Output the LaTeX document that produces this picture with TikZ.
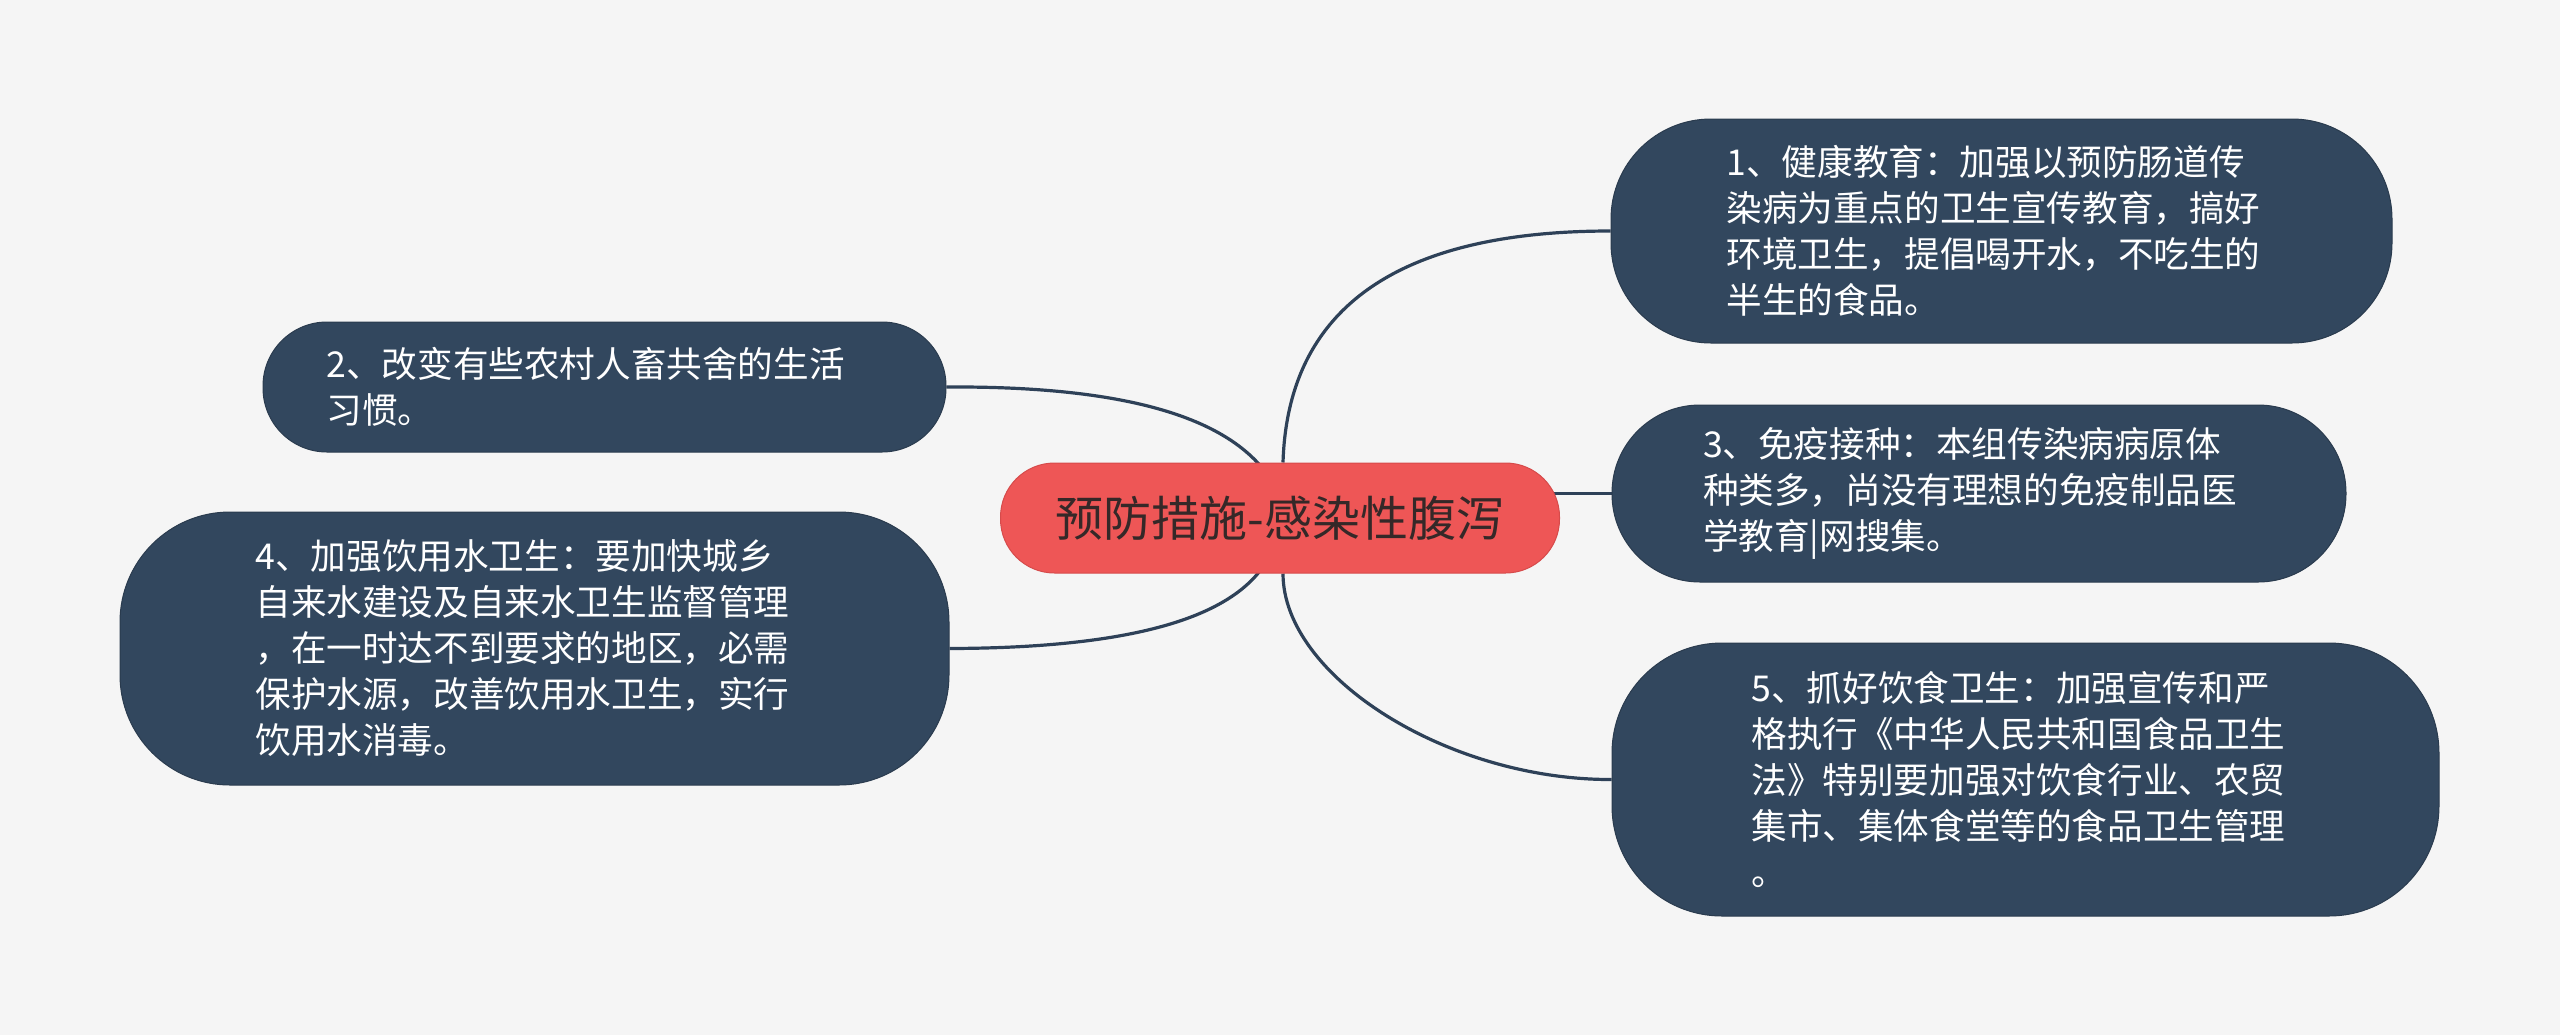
\documentclass[tikz,border=0pt]{standalone}
\usepackage{fontspec}
\setmainfont{Noto Sans CJK SC}
\usetikzlibrary{calc}
\definecolor{bgc}{HTML}{F5F5F5}
\definecolor{boxc}{HTML}{32475E}
\definecolor{boxline}{HTML}{2A3B4E}
\definecolor{linkc}{HTML}{2E4158}
\definecolor{rootc}{HTML}{EE5656}
\definecolor{rootline}{HTML}{D64B4B}
\definecolor{roottext}{HTML}{352828}
\pgfdeclarelayer{bglayer}
\pgfdeclarelayer{links}
\pgfsetlayers{bglayer,links,main}
\begin{document}
\begin{tikzpicture}[x=0.5pt,y=0.5pt,
  topic/.style={rectangle, fill=boxc, draw=boxline, line width=0.5pt, text=white,
    align=left, inner sep=0pt, font=\fontsize{17.8pt}{23pt}\selectfont},
  root/.style={rectangle, rounded corners=27pt, fill=rootc, draw=rootline, line width=0.5pt,
    text=roottext, inner sep=0pt, minimum width=279.5pt, minimum height=55pt,
    font=\fontsize{24pt}{28pt}\selectfont},
  link/.style={draw=linkc, line width=1.6pt}]

\begin{pgfonlayer}{bglayer}
\fill[bgc] (0,0) rectangle (2560,-1035);
\end{pgfonlayer}
\useasboundingbox (0,0) rectangle (2560,-1035);

\node[root] (c) at (1280,-518) {预防措施-感染性腹泻};

\node[topic, rounded corners=50pt, minimum width=390.5pt, minimum height=112pt, text width=275pt]
  (n1) at (2001.5,-231) {1、健康教育：加强以预防肠道传\\染病为重点的卫生宣传教育，搞好\\环境卫生，提倡喝开水，不吃生的\\半生的食品。};

\node[topic, rounded corners=32pt, minimum width=341.5pt, minimum height=65pt, text width=278pt]
  (n2) at (604.5,-387) {2、改变有些农村人畜共舍的生活\\习惯。};

\node[topic, rounded corners=44pt, minimum width=367pt, minimum height=88.5pt, text width=276pt]
  (n3) at (1979,-493.5) {3、免疫接种：本组传染病病原体\\种类多，尚没有理想的免疫制品医\\学教育|网搜集。};

\node[topic, rounded corners=55pt, minimum width=414.5pt, minimum height=136.5pt, text width=279pt]
  (n4) at (534.5,-648.5) {4、加强饮用水卫生：要加快城乡\\自来水建设及自来水卫生监督管理\\，在一时达不到要求的地区，必需\\保护水源，改善饮用水卫生，实行\\饮用水消毒。};

\node[topic, rounded corners=55pt, minimum width=413.5pt, minimum height=136.5pt, text width=274pt]
  (n5) at (2025.5,-779.5) {5、抓好饮食卫生：加强宣传和严\\格执行《中华人民共和国食品卫生\\法》特别要加强对饮食行业、农贸\\集市、集体食堂等的食品卫生管理\\。};

\begin{pgfonlayer}{links}
\draw[link] ($(c.north)+(3,0)$) .. controls (1287.7,-308.3) and (1397.2,-231) .. (n1.west);
\draw[link] ($(c.south)+(3,0)$) .. controls (1283,-676) and (1447,-780) .. (n5.west);
\draw[link] (n2.east) .. controls (1109,-386) and (1214,-411.7) .. ($(c.north)+(-19,-4)$);
\draw[link] (n4.east) .. controls (1116,-648) and (1220.7,-623) .. ($(c.south)+(-19,4)$);
\draw[link] (c.center |- n3.west) -- (n3.west);
\end{pgfonlayer}
\end{tikzpicture}
\end{document}
